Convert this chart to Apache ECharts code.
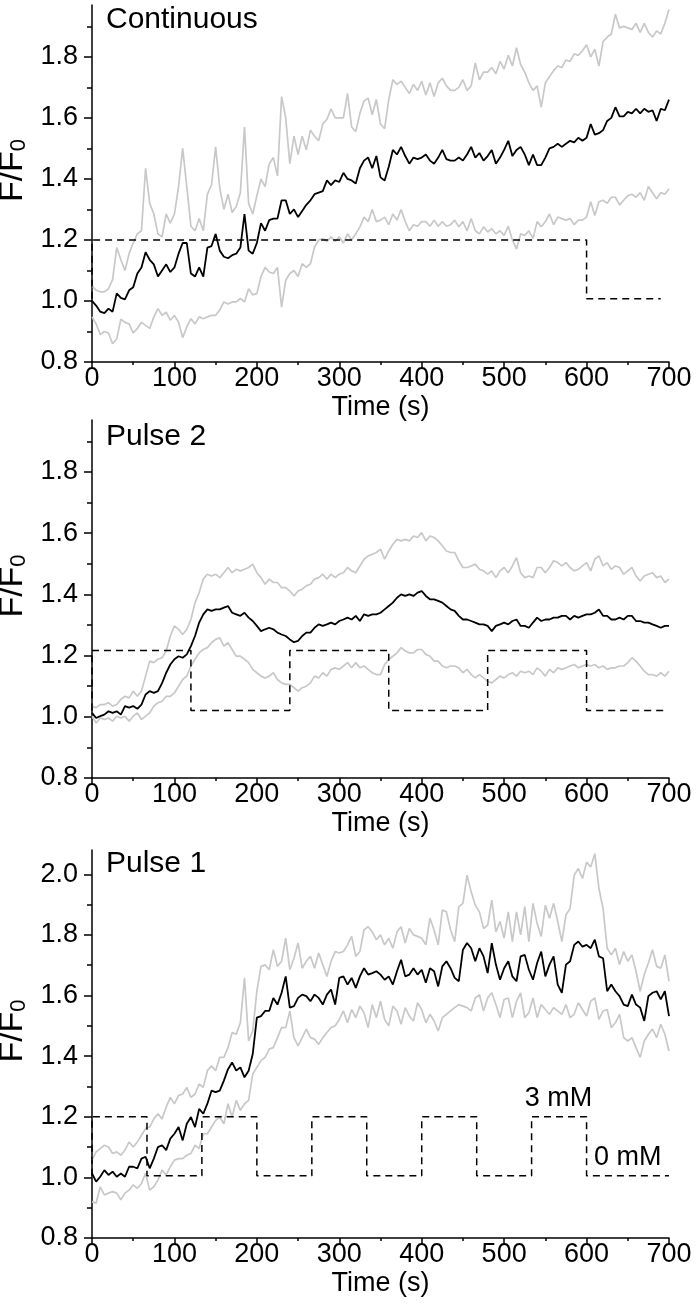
<!DOCTYPE html>
<html><head><meta charset="utf-8">
<script src="https://cdn.jsdelivr.net/npm/echarts@6/dist/echarts.min.js"></script>
<style>html,body{margin:0;padding:0;background:#fff}#c{width:699px;height:1311px}</style>
</head><body><div id="c"></div>
<script>
// ---- time axis (s) ----
const time = [0,5,10,15,20,25,30,35,40,45,50,55,60,65,70,75,80,85,90,95,100,105,110,115,120,125,130,135,140,145,150,155,160,165,170,175,180,185,190,195,200,205,210,215,220,225,230,235,240,245,250,255,260,265,270,275,280,285,290,295,300,305,310,315,320,325,330,335,340,345,350,355,360,365,370,375,380,385,390,395,400,405,410,415,420,425,430,435,440,445,450,455,460,465,470,475,480,485,490,495,500,505,510,515,520,525,530,535,540,545,550,555,560,565,570,575,580,585,590,595,600,605,610,615,620,625,630,635,640,645,650,655,660,665,670,675,680,685,690,695,700];

// ---- Panel 1: Continuous ----
const contMean = [1.00,0.985,0.965,0.96,0.975,0.965,1.025,1.01,1.005,1.035,1.045,1.09,1.11,1.16,1.135,1.12,1.08,1.10,1.12,1.095,1.11,1.155,1.19,1.19,1.09,1.08,1.11,1.08,1.175,1.18,1.22,1.165,1.145,1.14,1.15,1.155,1.175,1.285,1.165,1.155,1.19,1.255,1.23,1.265,1.27,1.27,1.33,1.33,1.285,1.30,1.275,1.295,1.315,1.33,1.35,1.355,1.36,1.395,1.38,1.395,1.39,1.42,1.40,1.395,1.385,1.435,1.46,1.47,1.435,1.475,1.405,1.395,1.44,1.495,1.48,1.505,1.475,1.45,1.47,1.465,1.47,1.48,1.46,1.45,1.47,1.495,1.465,1.46,1.46,1.47,1.46,1.48,1.505,1.47,1.485,1.46,1.475,1.495,1.45,1.47,1.495,1.525,1.475,1.495,1.505,1.48,1.445,1.48,1.445,1.445,1.47,1.50,1.505,1.515,1.505,1.515,1.525,1.52,1.535,1.525,1.535,1.58,1.545,1.55,1.56,1.59,1.60,1.635,1.605,1.605,1.62,1.615,1.63,1.615,1.63,1.62,1.625,1.59,1.63,1.625,1.66];
const contUpper = [1.05,1.035,1.03,1.03,1.04,1.07,1.175,1.135,1.10,1.155,1.19,1.22,1.23,1.435,1.32,1.285,1.22,1.21,1.285,1.255,1.285,1.375,1.50,1.375,1.245,1.23,1.27,1.23,1.35,1.38,1.505,1.37,1.30,1.35,1.29,1.31,1.355,1.57,1.32,1.285,1.345,1.40,1.375,1.45,1.47,1.41,1.67,1.60,1.45,1.54,1.48,1.54,1.495,1.56,1.54,1.525,1.58,1.595,1.63,1.60,1.60,1.60,1.68,1.57,1.555,1.615,1.655,1.665,1.61,1.66,1.58,1.565,1.66,1.725,1.71,1.72,1.70,1.68,1.71,1.69,1.72,1.675,1.715,1.67,1.715,1.73,1.705,1.69,1.69,1.70,1.725,1.69,1.705,1.78,1.725,1.75,1.75,1.765,1.745,1.785,1.76,1.805,1.77,1.83,1.775,1.75,1.715,1.69,1.705,1.635,1.715,1.735,1.755,1.77,1.765,1.79,1.785,1.81,1.805,1.82,1.84,1.80,1.825,1.77,1.85,1.865,1.875,1.94,1.895,1.90,1.895,1.89,1.91,1.88,1.91,1.88,1.865,1.885,1.875,1.91,1.955];
const contLower = [0.948,0.925,0.89,0.90,0.895,0.86,0.876,0.94,0.93,0.925,0.895,0.91,0.93,0.92,0.91,0.948,0.975,0.953,0.963,0.937,0.953,0.93,0.88,0.915,0.942,0.925,0.948,0.942,0.948,0.953,0.953,0.97,0.997,0.99,0.997,0.997,1.008,0.997,1.04,1.02,1.024,1.08,1.11,1.095,1.09,1.11,0.98,1.068,1.09,1.10,1.08,1.122,1.11,1.122,1.177,1.20,1.205,1.195,1.21,1.195,1.21,1.19,1.22,1.20,1.22,1.243,1.275,1.26,1.30,1.26,1.265,1.275,1.25,1.285,1.265,1.30,1.26,1.23,1.25,1.245,1.26,1.26,1.245,1.265,1.245,1.26,1.245,1.25,1.265,1.243,1.26,1.23,1.27,1.23,1.22,1.243,1.226,1.237,1.22,1.23,1.215,1.245,1.20,1.17,1.22,1.215,1.23,1.205,1.26,1.243,1.26,1.285,1.25,1.275,1.27,1.265,1.27,1.25,1.265,1.265,1.275,1.325,1.28,1.325,1.33,1.32,1.34,1.34,1.315,1.33,1.345,1.35,1.34,1.355,1.33,1.375,1.355,1.335,1.355,1.35,1.368];
const contStepT = [0,0,600,600,690];
const contStepV = [1.007,1.2,1.2,1.007,1.007];

// ---- Panel 2: Pulse 2 ----
const p2Mean = [1.013,0.996,1.002,1.007,1.018,1.013,1.018,1.007,1.035,1.03,1.035,1.026,1.04,1.073,1.084,1.078,1.084,1.11,1.144,1.171,1.188,1.198,1.193,1.204,1.231,1.264,1.308,1.335,1.351,1.346,1.351,1.351,1.357,1.362,1.34,1.335,1.33,1.34,1.324,1.313,1.297,1.28,1.286,1.291,1.286,1.275,1.269,1.264,1.253,1.244,1.248,1.264,1.275,1.275,1.291,1.302,1.297,1.302,1.308,1.302,1.313,1.318,1.324,1.318,1.33,1.313,1.335,1.33,1.335,1.335,1.34,1.351,1.362,1.373,1.389,1.40,1.395,1.40,1.395,1.406,1.411,1.395,1.384,1.384,1.379,1.373,1.362,1.351,1.346,1.33,1.318,1.318,1.313,1.308,1.302,1.302,1.297,1.28,1.297,1.302,1.308,1.302,1.313,1.318,1.297,1.297,1.291,1.308,1.324,1.313,1.318,1.318,1.324,1.324,1.33,1.33,1.318,1.33,1.324,1.33,1.335,1.335,1.34,1.351,1.33,1.33,1.318,1.318,1.324,1.318,1.33,1.33,1.313,1.313,1.308,1.308,1.302,1.297,1.291,1.297,1.297];
const p2Upper = [1.035,1.03,1.04,1.04,1.046,1.035,1.04,1.057,1.067,1.062,1.084,1.067,1.084,1.133,1.182,1.177,1.188,1.193,1.215,1.264,1.297,1.286,1.269,1.286,1.318,1.373,1.406,1.45,1.466,1.46,1.466,1.455,1.471,1.488,1.471,1.482,1.477,1.482,1.488,1.499,1.471,1.455,1.433,1.45,1.439,1.439,1.422,1.422,1.411,1.395,1.411,1.417,1.428,1.433,1.45,1.455,1.466,1.45,1.466,1.455,1.466,1.471,1.488,1.477,1.471,1.493,1.515,1.526,1.531,1.537,1.548,1.515,1.542,1.564,1.58,1.575,1.58,1.575,1.591,1.586,1.602,1.575,1.591,1.586,1.575,1.559,1.542,1.537,1.537,1.51,1.488,1.488,1.493,1.499,1.482,1.477,1.466,1.477,1.455,1.477,1.488,1.471,1.493,1.52,1.471,1.455,1.46,1.455,1.488,1.488,1.471,1.488,1.51,1.504,1.493,1.504,1.488,1.477,1.482,1.493,1.504,1.477,1.515,1.526,1.493,1.504,1.482,1.493,1.488,1.466,1.477,1.488,1.46,1.444,1.46,1.466,1.471,1.455,1.46,1.439,1.45];
const p2Lower = [1.002,0.98,0.996,0.991,0.996,0.986,1.002,0.996,1.002,0.986,1.002,1.013,0.991,1.002,1.013,1.035,1.046,1.051,1.067,1.067,1.078,1.10,1.122,1.133,1.166,1.188,1.209,1.22,1.226,1.242,1.253,1.258,1.231,1.242,1.22,1.198,1.198,1.188,1.177,1.155,1.144,1.133,1.127,1.133,1.144,1.122,1.111,1.106,1.106,1.095,1.084,1.095,1.10,1.111,1.133,1.127,1.144,1.133,1.155,1.16,1.155,1.166,1.177,1.16,1.177,1.16,1.166,1.155,1.144,1.138,1.138,1.171,1.188,1.198,1.209,1.226,1.215,1.209,1.209,1.22,1.22,1.204,1.198,1.182,1.182,1.166,1.16,1.166,1.166,1.16,1.144,1.155,1.138,1.127,1.138,1.127,1.116,1.111,1.122,1.133,1.127,1.138,1.144,1.133,1.149,1.144,1.149,1.138,1.16,1.149,1.133,1.155,1.144,1.16,1.155,1.16,1.166,1.171,1.16,1.166,1.171,1.166,1.171,1.16,1.166,1.155,1.16,1.16,1.166,1.166,1.177,1.193,1.182,1.166,1.149,1.138,1.138,1.133,1.144,1.133,1.149];
const p2StepT = [0,0,120,120,240,240,360,360,480,480,600,600,697];
const p2StepV = [1.021,1.217,1.217,1.021,1.021,1.217,1.217,1.021,1.021,1.217,1.217,1.021,1.021];

// ---- Panel 3: Pulse 1 ----
const p1Mean = [1.013,0.986,1.002,1.024,1.008,1.019,1.002,1.013,1.002,1.035,1.035,1.03,1.062,1.068,1.03,1.062,1.10,1.106,1.09,1.128,1.144,1.166,1.122,1.177,1.199,1.166,1.226,1.21,1.243,1.286,1.281,1.286,1.319,1.357,1.379,1.352,1.363,1.33,1.352,1.407,1.527,1.532,1.549,1.549,1.592,1.57,1.609,1.663,1.56,1.565,1.592,1.603,1.598,1.581,1.603,1.592,1.57,1.603,1.62,1.57,1.658,1.663,1.636,1.658,1.625,1.663,1.69,1.669,1.674,1.68,1.669,1.652,1.663,1.636,1.68,1.718,1.663,1.669,1.69,1.669,1.685,1.642,1.69,1.68,1.63,1.696,1.713,1.69,1.658,1.647,1.751,1.773,1.756,1.713,1.756,1.729,1.674,1.773,1.702,1.652,1.69,1.713,1.663,1.647,1.729,1.734,1.685,1.652,1.707,1.745,1.663,1.702,1.729,1.636,1.609,1.702,1.713,1.767,1.778,1.761,1.767,1.756,1.784,1.729,1.723,1.614,1.636,1.614,1.598,1.57,1.565,1.603,1.57,1.56,1.516,1.598,1.609,1.614,1.587,1.614,1.532];
const p1Upper = [1.057,1.084,1.095,1.106,1.10,1.079,1.084,1.073,1.09,1.117,1.10,1.117,1.139,1.161,1.166,1.193,1.21,1.193,1.232,1.264,1.243,1.27,1.275,1.297,1.264,1.275,1.308,1.297,1.352,1.368,1.352,1.396,1.396,1.428,1.478,1.472,1.51,1.658,1.45,1.483,1.614,1.696,1.701,1.685,1.751,1.696,1.713,1.789,1.685,1.723,1.773,1.69,1.713,1.729,1.69,1.74,1.701,1.663,1.713,1.745,1.74,1.745,1.767,1.795,1.729,1.745,1.816,1.827,1.81,1.784,1.80,1.767,1.789,1.756,1.81,1.827,1.773,1.821,1.80,1.795,1.789,1.767,1.855,1.816,1.767,1.882,1.876,1.816,1.778,1.893,1.904,1.997,1.942,1.898,1.876,1.821,1.832,1.915,1.81,1.844,1.789,1.876,1.778,1.876,1.80,1.893,1.778,1.904,1.838,1.795,1.898,1.855,1.904,1.844,1.778,1.866,1.887,1.997,2.019,1.986,2.04,2.024,2.068,1.953,1.887,1.756,1.734,1.756,1.702,1.745,1.713,1.734,1.68,1.614,1.669,1.707,1.751,1.696,1.69,1.734,1.647];
const p1Lower = [0.92,0.915,0.969,0.942,0.948,0.953,0.948,0.926,0.948,0.958,0.975,0.964,0.98,1.013,0.958,0.969,0.991,1.024,1.008,1.035,1.057,1.062,1.062,1.073,1.079,1.106,1.095,1.144,1.144,1.166,1.188,1.199,1.177,1.243,1.199,1.254,1.221,1.243,1.254,1.341,1.363,1.385,1.396,1.423,1.428,1.461,1.494,1.494,1.549,1.461,1.434,1.461,1.489,1.461,1.456,1.439,1.461,1.478,1.494,1.50,1.521,1.549,1.51,1.554,1.527,1.565,1.543,1.494,1.57,1.527,1.581,1.521,1.50,1.565,1.549,1.505,1.56,1.532,1.516,1.576,1.554,1.51,1.538,1.516,1.483,1.527,1.538,1.549,1.56,1.57,1.565,1.56,1.549,1.592,1.603,1.549,1.592,1.609,1.57,1.527,1.587,1.592,1.527,1.581,1.609,1.527,1.543,1.592,1.527,1.57,1.554,1.538,1.56,1.549,1.538,1.57,1.527,1.538,1.576,1.554,1.532,1.581,1.592,1.521,1.549,1.554,1.494,1.51,1.538,1.461,1.45,1.461,1.428,1.396,1.45,1.472,1.489,1.461,1.505,1.472,1.417];
const p1StepT = [0,0,66.7,66.7,133.3,133.3,200,200,266.7,266.7,333.3,333.3,400,400,466.7,466.7,533.3,533.3,600,600,700];
const p1StepV = [1.005,1.2,1.2,1.005,1.005,1.2,1.2,1.005,1.005,1.2,1.2,1.005,1.005,1.2,1.2,1.005,1.005,1.2,1.2,1.005,1.005];
const p1Notes = [{name:'3 mM', t:566, v:1.26},{name:'0 mM', t:650, v:1.064}];

// ---- tick labels ----
const xTicks = [0,100,200,300,400,500,600,700];
const yTicksA = [0.8,1.0,1.2,1.4,1.6,1.8];
const yMinorA = [0.9,1.1,1.3,1.5,1.7,1.9];
const yTicksB = [0.8,1.0,1.2,1.4,1.6,1.8,2.0];
const yMinorB = [0.9,1.1,1.3,1.5,1.7,1.9];
const titles = ['Continuous','Pulse 2','Pulse 1'];

const FONT = '"Liberation Sans", Arial, sans-serif';
const zip = (a) => time.map((t,i)=>[t,a[i]]);
const zip2 = (ts,vs) => ts.map((t,i)=>[t,vs[i]]);

const panels = [
  {top:5, height:357, max:1.97, titleTop:5, major:yTicksA, minor:yMinorA, mean:contMean, up:contUpper, lo:contLower, st:contStepT, sv:contStepV},
  {top:420, height:358, max:1.97, titleTop:422, major:yTicksA, minor:yMinorA, mean:p2Mean, up:p2Upper, lo:p2Lower, st:p2StepT, sv:p2StepV},
  {top:850, height:388, max:2.08, titleTop:849, major:yTicksB, minor:yMinorB, mean:p1Mean, up:p1Upper, lo:p1Lower, st:p1StepT, sv:p1StepV}
];

const grid=[], xAxis=[], yAxis=[], series=[], title=[];
panels.forEach((p,i)=>{
  grid.push({left:92, right:30, top:p.top, height:p.height, containLabel:false, outerBoundsMode:'none'});
  title.push({text:titles[i], left:106, top:p.titleTop, padding:0, textStyle:{fontFamily:FONT, fontSize:30, fontWeight:'normal', color:'#000'}});
  xAxis.push({type:'value', gridIndex:i, min:0, max:700, interval:100,
    axisLine:{lineStyle:{color:'#000', width:1.5}},
    axisTick:{length:6, lineStyle:{color:'#000', width:1.5}},
    minorTick:{show:true, splitNumber:2, length:3, lineStyle:{color:'#000', width:1.5}},
    splitLine:{show:false},
    axisLabel:{fontFamily:FONT, fontSize:27, color:'#000', margin:3, customValues:xTicks, hideOverlap:false},
    name:'Time (s)', nameLocation:'middle', nameGap:32,
    nameTextStyle:{fontFamily:FONT, fontSize:27, color:'#000'}});
  yAxis.push({type:'value', gridIndex:i, min:0.8, max:p.max, position:'left',
    axisLine:{show:true, lineStyle:{color:'#000', width:1.5}},
    axisTick:{show:true, length:8, customValues:p.major, lineStyle:{color:'#000', width:1.5}},
    splitLine:{show:false},
    axisLabel:{fontFamily:FONT, fontSize:27, color:'#000', margin:14, customValues:p.major, formatter:(v)=>v.toFixed(1)},
    name:'{a|F/F}{b|0}', nameLocation:'middle', nameGap:51,
    nameTextStyle:{fontFamily:FONT, color:'#000', padding:[0,0,0,26], rich:{a:{fontFamily:FONT, fontSize:34, color:'#000', lineHeight:34}, b:{fontFamily:FONT, fontSize:22, color:'#000', lineHeight:16, verticalAlign:'bottom'}}}});
  yAxis.push({type:'value', gridIndex:i, min:0.8, max:p.max, position:'left', offset:0,
    axisLine:{show:false}, splitLine:{show:false}, axisLabel:{show:false},
    axisTick:{show:true, length:5, customValues:p.minor, lineStyle:{color:'#000', width:1.5}}});
  const yi = i*2;
  const base = {type:'line', xAxisIndex:i, yAxisIndex:yi, showSymbol:false, symbol:'none', animation:false, silent:true};
  series.push(Object.assign({}, base, {data:zip(p.up), lineStyle:{color:'#c8c8c8', width:1.7}}));
  series.push(Object.assign({}, base, {data:zip(p.lo), lineStyle:{color:'#c8c8c8', width:1.7}}));
  series.push(Object.assign({}, base, {data:zip2(p.st,p.sv), lineStyle:{color:'#000', width:1.5, type:[7,5]}}));
  series.push(Object.assign({}, base, {data:zip(p.mean), lineStyle:{color:'#000', width:1.8}}));
  if(i===2){
    series.push({type:'scatter', xAxisIndex:i, yAxisIndex:yi, symbolSize:0, animation:false, silent:true,
      itemStyle:{opacity:1},
      data:p1Notes.map(n=>({name:n.name, value:[n.t,n.v]})),
      label:{show:true, position:'inside', formatter:'{b}', fontFamily:FONT, fontSize:27, color:'#000', opacity:1}});
  }
});

const chart = echarts.init(document.getElementById('c'), null, {renderer:'canvas'});
chart.setOption({animation:false, backgroundColor:'#fff', title, grid, xAxis, yAxis, series});
</script></body></html>
